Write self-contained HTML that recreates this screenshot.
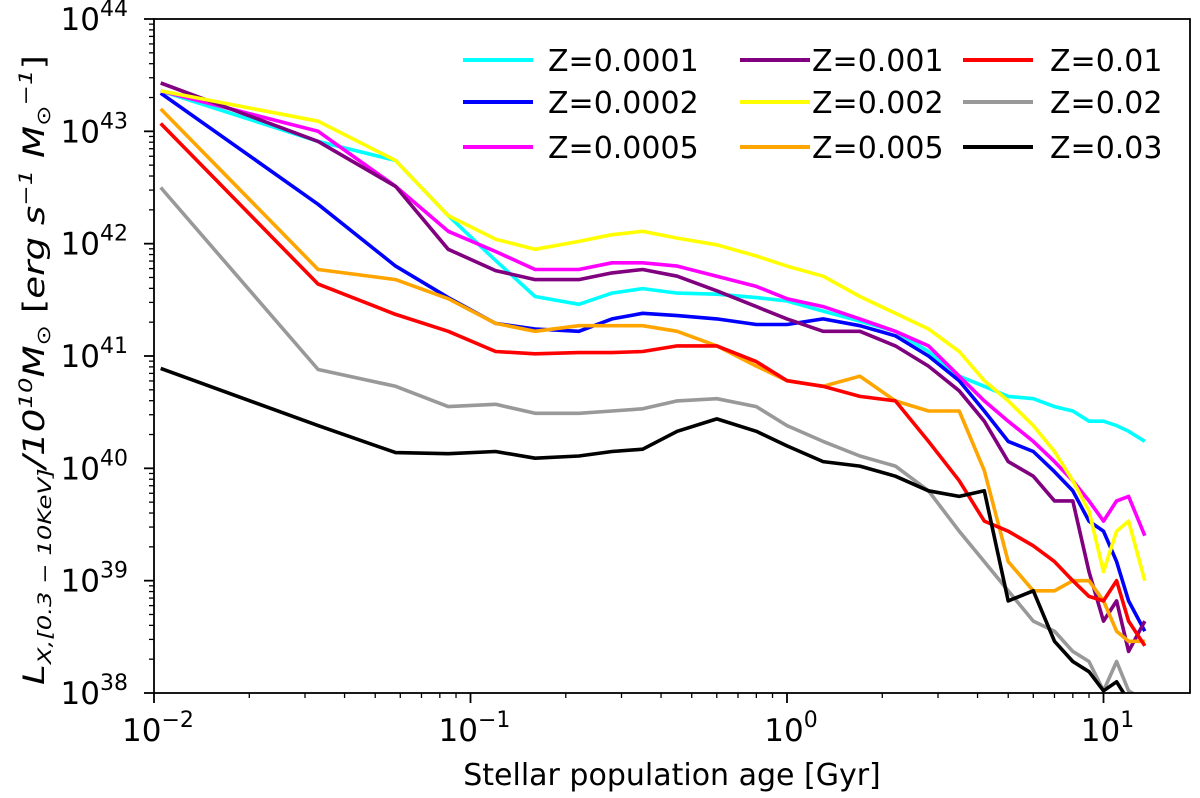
<!DOCTYPE html>
<html><head><meta charset="utf-8"><style>
body{margin:0;background:#fff}
svg{display:block;font-family:"DejaVu Sans","Liberation Sans",sans-serif}
</style></head><body>
<svg id="chart" width="1200" height="798" viewBox="0 0 1200 798" xmlns="http://www.w3.org/2000/svg">
<g id="marks"></g>
<g id="axes"></g>
<g id="legend"></g>
<text x="672" y="785" font-size="30" text-anchor="middle">Stellar population age [Gyr]</text>
<text transform="translate(44,370) rotate(-90)" font-size="29" text-anchor="middle" font-style="italic" textLength="630" lengthAdjust="spacingAndGlyphs">L<tspan font-size="19" dy="7">X,[0.3 − 10KeV]</tspan><tspan dy="-7">/10</tspan><tspan font-size="19" dy="-12">10</tspan><tspan dy="12">M</tspan><tspan font-size="19" dy="6" font-style="normal">⊙</tspan><tspan dy="-6" font-style="normal"> [</tspan>erg s<tspan font-size="19" dy="-12">−1</tspan><tspan dy="12"> M</tspan><tspan font-size="19" dy="6" font-style="normal">⊙</tspan><tspan font-size="19" dy="-18">−1</tspan><tspan dy="12" font-style="normal">]</tspan></text>
</svg>
<script>
const ages=[0.0105,0.033,0.058,0.085,0.12,0.16,0.22,0.28,0.35,0.45,0.6,0.8,1.0,1.3,1.7,2.2,2.8,3.5,4.2,5,6,7,8,9,10,11,12,13.5];
const seriesNames=["Z=0.0001","Z=0.0002","Z=0.0005","Z=0.001","Z=0.002","Z=0.005","Z=0.01","Z=0.02","Z=0.03"];
const seriesColors=["#00ffff","#0000ff","#ff00ff","#800080","#ffff00","#ffa500","#ff0000","#999999","#000000"];
const logZ0001=[43.36,42.91,42.74,42.25,41.85,41.53,41.46,41.56,41.6,41.56,41.55,41.52,41.49,41.4,41.31,41.22,41.04,40.82,40.73,40.64,40.62,40.55,40.51,40.42,40.42,40.38,40.33,40.24];
const logZ0002=[43.34,42.35,41.8,41.52,41.29,41.24,41.22,41.33,41.38,41.36,41.33,41.28,41.28,41.33,41.27,41.18,41.0,40.78,40.51,40.24,40.15,39.97,39.8,39.53,39.44,39.17,38.82,38.55];
const logZ0005=[43.36,43.0,42.51,42.11,41.93,41.77,41.77,41.83,41.83,41.8,41.71,41.62,41.51,41.44,41.33,41.22,41.09,40.82,40.6,40.42,40.24,40.06,39.89,39.71,39.53,39.71,39.75,39.4];
const logZ001=[43.43,42.91,42.51,41.95,41.76,41.68,41.68,41.74,41.77,41.71,41.58,41.44,41.33,41.22,41.22,41.09,40.91,40.69,40.42,40.06,39.93,39.71,39.71,39.08,38.64,38.82,38.37,38.64];
const logZ002=[43.36,43.09,42.74,42.25,42.04,41.95,42.02,42.08,42.11,42.05,41.99,41.89,41.8,41.71,41.53,41.38,41.24,41.04,40.78,40.6,40.38,40.15,39.89,39.62,39.08,39.44,39.53,39.0];
const logZ005=[43.2,41.77,41.68,41.51,41.29,41.22,41.27,41.27,41.27,41.22,41.09,40.91,40.78,40.73,40.82,40.6,40.51,40.51,39.98,39.17,38.91,38.91,39.0,39.0,38.82,38.55,38.46,38.46];
const logZ01=[43.07,41.64,41.37,41.22,41.04,41.02,41.03,41.03,41.04,41.09,41.09,40.95,40.78,40.73,40.64,40.6,40.24,39.89,39.53,39.44,39.31,39.17,39.0,38.86,38.82,39.0,38.64,38.42];
const logZ02=[42.5,40.88,40.73,40.55,40.57,40.49,40.49,40.51,40.53,40.6,40.62,40.55,40.38,40.24,40.11,40.02,39.8,39.44,39.17,38.91,38.64,38.55,38.37,38.28,38.02,38.28,38.02,37.93];
const logZ03=[40.89,40.38,40.14,40.13,40.15,40.09,40.11,40.15,40.17,40.33,40.44,40.33,40.2,40.06,40.02,39.93,39.8,39.75,39.8,38.82,38.91,38.46,38.28,38.19,38.02,38.1,37.93,37.93];
const allSeries=[logZ0001,logZ0002,logZ0005,logZ001,logZ002,logZ005,logZ01,logZ02,logZ03];
const xTickExps=[-2,-1,0,1];
const yTickExps=[38,39,40,41,42,43,44];

const L=154,R=1190,T=19,B=693;
const xMinL=-2,decX=316.5,yMinL=38,yMaxL=44;
const xs=a=>L+decX*(Math.log10(a)-xMinL);
const ys=l=>B-(B-T)*(l-yMinL)/(yMaxL-yMinL);
const NS="http://www.w3.org/2000/svg";
function mk(tag,attrs,parent){const e=document.createElementNS(NS,tag);for(const k in attrs)e.setAttribute(k,attrs[k]);parent.appendChild(e);return e;}
const svg=document.getElementById('chart');
const defs=mk('defs',{},svg);
const cp=mk('clipPath',{id:'clip'},defs);
mk('rect',{x:L,y:T,width:R-L,height:B-T},cp);
const marks=document.getElementById('marks');
marks.setAttribute('clip-path','url(#clip)');
allSeries.forEach((s,i)=>{
  const d=s.map((v,j)=>(j?'L':'M')+xs(ages[j]).toFixed(1)+','+ys(v).toFixed(1)).join('');
  const p=mk('path',{d:d,fill:'none',stroke:seriesColors[i],'stroke-width':3.6,'stroke-linejoin':'round'},marks);
  
  
});
const ax=document.getElementById('axes');
const fr=mk('rect',{x:L,y:T,width:R-L,height:B-T,fill:'none',stroke:'#000','stroke-width':1.8},ax);


for(let e=-2;e<=1;e++){for(let m=1;m<10;m++){const v=m*Math.pow(10,e);const x=xs(v);if(x>R)break;
  mk('line',{x1:x,x2:x,y1:B,y2:B+(m==1?10:5),stroke:'#000','stroke-width':m==1?1.8:1.3},ax);}}
xTickExps.forEach(e=>{const t=mk('text',{x:xs(Math.pow(10,e))+4,y:B+48,'font-size':31,'text-anchor':'middle'},ax);
  
  
  t.innerHTML='10<tspan font-size="22" dy="-14">'+(e<0?'−'+(-e):e)+'</tspan>';});
for(let e=38;e<=44;e++){for(let m=1;m<10;m++){const l=e+Math.log10(m);if(l>44)break;const y=ys(l);
  mk('line',{x1:L,x2:L-(m==1?10:5),y1:y,y2:y,stroke:'#000','stroke-width':m==1?1.8:1.3},ax);}}
yTickExps.forEach(e=>{const t=mk('text',{x:L-26,y:ys(e)+11,'font-size':31,'text-anchor':'end'},ax);
  
  
  t.innerHTML='10<tspan font-size="22" dy="-14">'+e+'</tspan>';});
const lg=document.getElementById('legend');
const lineX=[463,740,963],textX=[548,812,1050],rowY=[60,102,147];
seriesNames.forEach((n,i)=>{const c=Math.floor(i/3),r=i%3;
  const g=mk('g',{},lg);
  
  
  mk('line',{x1:lineX[c],x2:lineX[c]+70,y1:rowY[r],y2:rowY[r],stroke:seriesColors[i],'stroke-width':4},g);
  const t=mk('text',{x:textX[c],y:rowY[r]+11,'font-size':30},g);t.textContent=n;});
</script>
</body></html>
